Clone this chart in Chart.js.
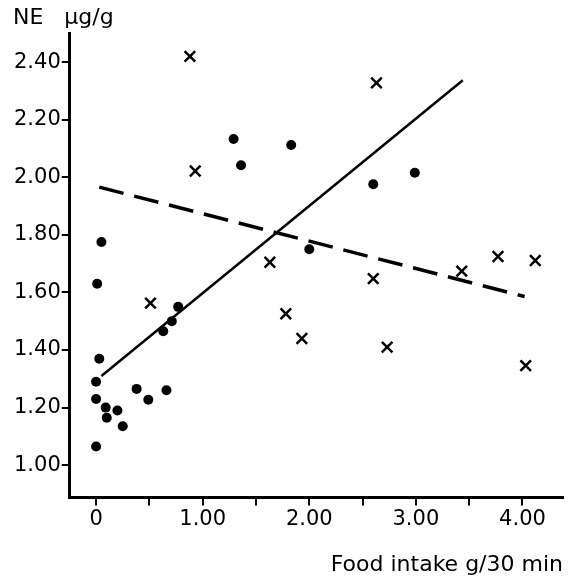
<!DOCTYPE html>
<html>
<head>
<meta charset="utf-8">
<script src="https://cdn.jsdelivr.net/npm/chart.js@4"></script>
<style>
  html, body { margin: 0; padding: 0; background: #fff; }
  #wrap { width: 573px; height: 578px; }
</style>
</head>
<body>
<div id="wrap"><canvas id="neChart"></canvas></div>
<script>
// filled dots
const dotX = [0.05, 0.01, 0.03, 0.00, 0.00, 0.09, 0.10, 0.20, 0.25, 0.00, 0.38, 0.49, 0.66, 0.63, 0.71, 0.77, 1.29, 1.36, 1.83, 2.00, 2.60, 2.99];
const dotY = [1.775, 1.63, 1.37, 1.29, 1.23, 1.20, 1.165, 1.19, 1.135, 1.065, 1.265, 1.227, 1.26, 1.465, 1.50, 1.55, 2.133, 2.042, 2.112, 1.75, 1.976, 2.016];
// X markers
const crossX = [0.88, 0.93, 0.51, 1.63, 1.78, 1.93, 2.63, 2.60, 2.73, 3.43, 3.77, 4.12, 4.03];
const crossY = [2.42, 2.022, 1.563, 1.705, 1.526, 1.44, 2.328, 1.648, 1.41, 1.674, 1.725, 1.711, 1.346];
// regression lines
const solidX = [0.05, 3.44];
const solidY = [1.31, 2.337];
const dashX = [0.03, 4.02];
const dashY = [1.966, 1.586];
// ticks
const xTicks = [0, 0.5, 1, 1.5, 2, 2.5, 3, 3.5, 4];
const yTicks = [1.0, 1.2, 1.4, 1.6, 1.8, 2.0, 2.2, 2.4];

const pts = (xs, ys) => xs.map((x, i) => ({ x: x, y: ys[i] }));
const font = { family: 'DejaVu Sans', size: 21, weight: 'normal' };
const bigFont = { family: 'DejaVu Sans', size: 22, weight: 'normal' };

new Chart(document.getElementById('neChart').getContext('2d'), {
  type: 'scatter',
  data: {
    datasets: [{
      data: pts(dotX, dotY),
      pointStyle: 'circle',
      pointRadius: 5,
      backgroundColor: '#000',
      borderColor: '#000',
      borderWidth: 0
    }, {
      data: pts(crossX, crossY),
      pointStyle: 'crossRot',
      pointRadius: 7.5,
      borderColor: '#000',
      borderWidth: 2.5
    }, {
      type: 'line',
      data: pts(solidX, solidY),
      borderColor: '#000',
      borderWidth: 2.5,
      pointRadius: 0,
      tension: 0
    }, {
      type: 'line',
      data: pts(dashX, dashY),
      borderColor: '#000',
      borderWidth: 3.5,
      borderDash: [25, 11],
      pointRadius: 0,
      tension: 0
    }]
  },
  options: {
    responsive: true,
    maintainAspectRatio: false,
    animation: false,
    layout: { padding: { left: 13, right: 0, top: 0, bottom: 0 } },
    plugins: {
      legend: { display: false },
      tooltip: { enabled: false },
      title: {
        display: true,
        text: 'NE   µg/g',
        align: 'start',
        color: '#000',
        font: bigFont,
        padding: { top: 5, bottom: 2 }
      }
    },
    scales: {
      x: {
        type: 'linear',
        min: -0.247,
        max: 4.38,
        afterBuildTicks: axis => { axis.ticks = xTicks.map(v => ({ value: v })); },
        ticks: {
          color: '#000',
          font: font,
          padding: 2,
          maxRotation: 0,
          autoSkip: false,
          callback: v => v === 0 ? '0' : (Number.isInteger(v) ? v.toFixed(2) : '')
        },
        grid: { display: true, drawOnChartArea: false, drawTicks: true, tickLength: 8, color: '#000', lineWidth: 2 },
        border: { display: true, color: '#000', width: 3 },
        title: {
          display: true,
          text: 'Food intake g/30 min',
          align: 'end',
          color: '#000',
          font: bigFont,
          padding: { top: 17, bottom: 0 }
        }
      },
      y: {
        type: 'linear',
        min: 0.888,
        max: 2.5,
        afterBuildTicks: axis => { axis.ticks = yTicks.map(v => ({ value: v })); },
        ticks: {
          color: '#000',
          font: font,
          padding: 1,
          autoSkip: false,
          callback: v => v.toFixed(2)
        },
        grid: { display: true, drawOnChartArea: false, drawTicks: true, tickLength: 8, color: '#000', lineWidth: 2 },
        border: { display: true, color: '#000', width: 3 }
      }
    }
  }
});
</script>
</body>
</html>
